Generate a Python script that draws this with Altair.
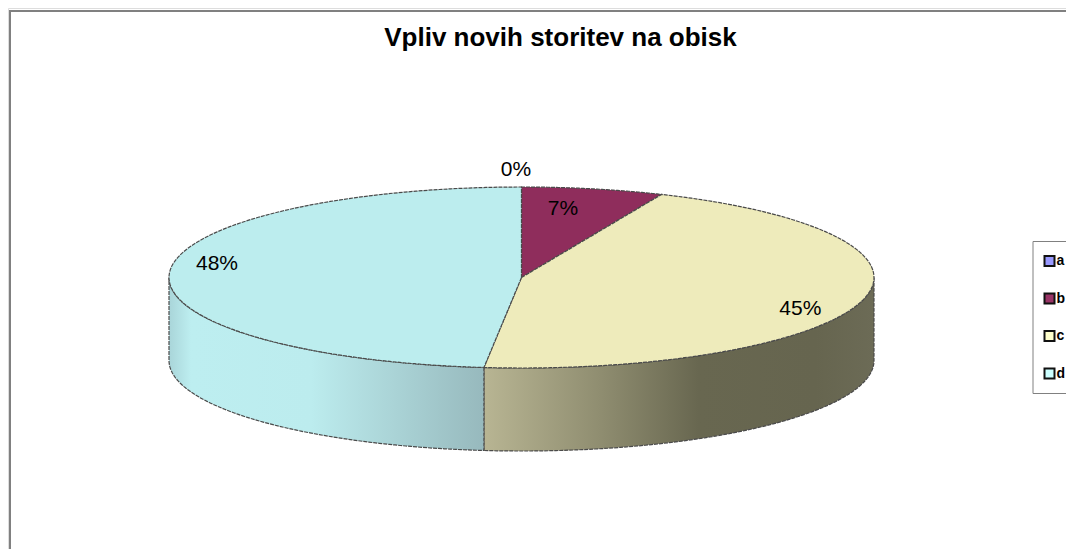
import math
import altair as alt
import pandas as pd

TITLE = "Vpliv novih storitev na obisk"
categories = ["a", "b", "c", "d"]
values = [0.0, 6.5, 45.2, 48.3]
percent_labels = ["0%", "7%", "45%", "48%"]

top_colors = ["#9999FF", "#8F2D5C", "#EEEBBB", "#BCEDEE"]
legend_colors = ["#9999FF", "#993366", "#FFFFCC", "#CCFFFF"]
side_stops = {
    "c": [(0, "#B8B593"), (0.3, "#8F8D70"), (0.55, "#686750"), (0.85, "#66654F"), (1, "#6C6B56")],
    "d": [(0, "#A9D5D9"), (0.07, "#BDEEF0"), (0.45, "#BCECEE"), (1, "#97B9BD")],
}
label_nudges = [(-5.6, -17), (-30, 20), (-62, 8), (47.5, -9)]

# layout (page pixels, the plot area starts at the 8px page margin)
W, H = 1058, 541
CX, CY, RX, RY, DEPTH = 521.5, 277.5, 352.5, 90.5, 83
TITLE_X, TITLE_Y = 560.5, 38
FONT = "Liberation Sans"
EDGE = {"stroke": "#4A4A4A", "strokeWidth": 1.2, "strokeDash": [4, 1]}

x_enc = alt.X("x:Q", axis=None, scale=alt.Scale(domain=[8, 8 + W], nice=False, zero=False))
y_enc = alt.Y("y:Q", axis=None, scale=alt.Scale(domain=[8 + H, 8], nice=False, zero=False))


def pt(t_deg, drop=0.0):
    t = math.radians(t_deg)
    return CX + RX * math.sin(t), CY - RY * math.cos(t) + drop


def arc(t0, t1, drop=0.0, n=90):
    return [pt(t0 + (t1 - t0) * i / n, drop) for i in range(n + 1)]


def poly(points, fill, **style):
    df = pd.DataFrame(points, columns=["x", "y"])
    df["i"] = range(len(df))
    return alt.Chart(df).mark_line(fill=fill, interpolate="linear", **style).encode(
        x=x_enc, y=y_enc, order="i:Q"
    )


# slice angles
total = sum(values)
bounds = [0.0]
for v in values:
    bounds.append(bounds[-1] + v / total * 360)

layers = []

# side walls (front half only)
c_end = bounds[3]
for name, t0, t1 in [("c", 90, c_end), ("d", c_end, 270)]:
    grad = alt.Gradient(
        gradient="linear",
        x1=0, x2=1, y1=0, y2=0,
        stops=[alt.GradientStop(offset=o, color=c) for o, c in side_stops[name]],
    )
    ring = arc(t0, t1) + arc(t1, t0, DEPTH)
    ring.append(ring[0])
    layers.append(poly(ring, grad, **EDGE))

# top faces
for i in range(4):
    wedge = [(CX, CY)] + arc(bounds[i], bounds[i + 1]) + [(CX, CY)]
    layers.append(poly(wedge, top_colors[i], **EDGE))

# percent labels
lab = []
for i in range(4):
    px, py = pt((bounds[i] + bounds[i + 1]) / 2)
    lab.append({"x": px + label_nudges[i][0], "y": py + label_nudges[i][1], "t": percent_labels[i]})
layers.append(
    alt.Chart(pd.DataFrame(lab)).mark_text(font=FONT, fontSize=21, color="#000000", baseline="middle", align="center")
    .encode(x=x_enc, y=y_enc, text="t:N")
)

# chart title
layers.append(
    alt.Chart(pd.DataFrame({"x": [TITLE_X], "y": [TITLE_Y], "t": [TITLE]}))
    .mark_text(font=FONT, fontSize=26, fontWeight="bold", color="#000000", baseline="middle", align="center")
    .encode(x=x_enc, y=y_enc, text="t:N")
)

# frame (left and top edges are all that the window shows)
layers.append(alt.Chart(pd.DataFrame({"k": [0]})).mark_rule(color="#808080", strokeWidth=2).encode(
    x=alt.value(2), y=alt.value(3), y2=alt.value(H)))
layers.append(alt.Chart(pd.DataFrame({"k": [0]})).mark_rule(color="#808080", strokeWidth=2).encode(
    x=alt.value(1), x2=alt.value(W), y=alt.value(3)))

# legend carrier
layers.append(
    alt.Chart(pd.DataFrame({"cat": categories, "x": [CX] * 4, "y": [CY] * 4}))
    .mark_square(size=0)
    .encode(
        x=x_enc,
        y=y_enc,
        color=alt.Color(
            "cat:N",
            scale=alt.Scale(domain=categories, range=legend_colors),
            legend=alt.Legend(
                orient="none",
                legendX=1032.5 - 8,
                legendY=241 - 8,
                title=" ",
                titleFontSize=1,
                titlePadding=2,
                symbolType="square",
                symbolSize=100,
                symbolStrokeColor="#111111",
                symbolStrokeWidth=2,
                symbolOpacity=1,
                labelFont=FONT,
                labelFontSize=14,
                labelFontWeight="bold",
                labelColor="#000000",
                labelOffset=0,
                rowPadding=19.5,
                padding=10,
                strokeColor="#808080",
                fillColor="#FFFFFF",
            ),
        ),
    )
)

chart = (
    alt.layer(*layers)
    .properties(
        width=W,
        height=H,
        padding=0,
        autosize=alt.AutoSizeParams(type="none"),
    )
    .configure_view(stroke=None)
    .configure(background="#FFFFFF")
)

chart.save("out.html", embed_options={"renderer": "svg", "actions": False})
